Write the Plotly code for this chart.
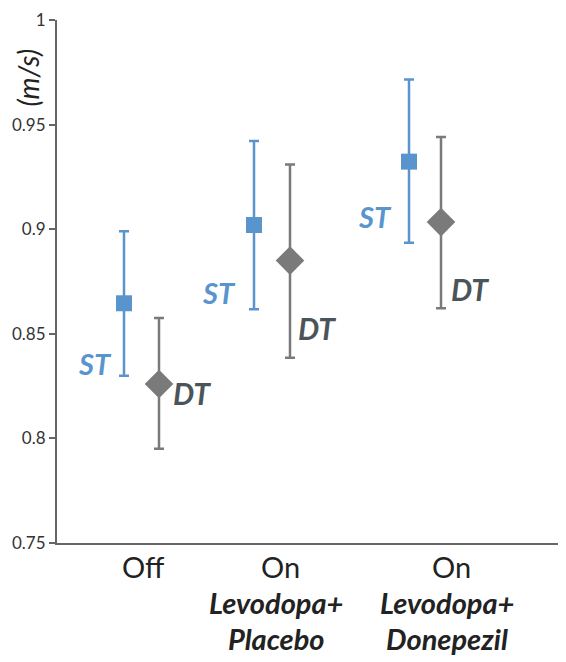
import plotly.graph_objects as go

# ---- data ----
conditions = ["Off", "On Levodopa+Placebo", "On Levodopa+Donepezil"]
st_mean = [0.8646, 0.902, 0.9323]
st_upper = [0.899, 0.9422, 0.9716]
st_lower = [0.830, 0.8617, 0.8935]
dt_mean = [0.826, 0.885, 0.9034]
dt_upper = [0.8575, 0.9309, 0.9441]
dt_lower = [0.795, 0.8385, 0.8622]
y_ticks = [0.75, 0.8, 0.85, 0.9, 0.95, 1.0]
y_ticklabels = ["0.75", "0.8", "0.85", "0.9", "0.95", "1"]

# ---- layout positions (pixel offsets from the y axis) ----
st_x = [67, 197, 352]
dt_x = [102, 233, 384]
cat_label_x = [86, 223, 394]
st_label_y = [0.8357, 0.8698, 0.9062]
dt_label_y = [0.8215, 0.8527, 0.8712]
st_label_dx = [-10, -16, -15]
dt_label_dx = [12, 6, 8]

BLUE = "#5995cc"
GRAY = "#7a7a7a"
DTTXT = "#4b5459"
FONT = "Lato"

fig = go.Figure()
fig.add_trace(go.Scatter(
    x=st_x, y=st_mean, mode="markers",
    marker=dict(symbol="square", size=16, color=BLUE),
    error_y=dict(type="data", symmetric=False,
                 array=[u - m for u, m in zip(st_upper, st_mean)],
                 arrayminus=[m - l for m, l in zip(st_mean, st_lower)],
                 color=BLUE, thickness=2.5, width=5),
    showlegend=False, hoverinfo="skip"))
fig.add_trace(go.Scatter(
    x=dt_x, y=dt_mean, mode="markers",
    marker=dict(symbol="diamond", size=22, color=GRAY),
    error_y=dict(type="data", symmetric=False,
                 array=[u - m for u, m in zip(dt_upper, dt_mean)],
                 arrayminus=[m - l for m, l in zip(dt_mean, dt_lower)],
                 color=GRAY, thickness=2.5, width=5),
    showlegend=False, hoverinfo="skip"))

ann = []
for i in range(3):
    ann.append(dict(x=st_x[i] + st_label_dx[i], y=st_label_y[i], xref="x", yref="y",
                    text="<b><i>ST</i></b>", showarrow=False, xanchor="right", yanchor="middle",
                    font=dict(family=FONT, size=29, color=BLUE)))
    ann.append(dict(x=dt_x[i] + dt_label_dx[i], y=dt_label_y[i], xref="x", yref="y",
                    text="<b><i>DT</i></b>", showarrow=False, xanchor="left", yanchor="middle",
                    font=dict(family=FONT, size=30, color=DTTXT)))

cat_lines = [("Off", None, None), ("On", "Levodopa+", "Placebo"), ("On", "Levodopa+", "Donepezil")]
for i, (a, b, c) in enumerate(cat_lines):
    ann.append(dict(x=cat_label_x[i], y=-0.008, xref="x", yref="paper", text=a,
                    showarrow=False, xanchor="center", yanchor="top",
                    font=dict(family=FONT, size=29, color="#222222")))
    if b:
        ann.append(dict(x=cat_label_x[i] - 4, y=-0.076, xref="x", yref="paper",
                        text="<b><i>" + b + "</i></b>", showarrow=False, xanchor="center", yanchor="top",
                        font=dict(family=FONT, size=29, color="#222222")))
        ann.append(dict(x=cat_label_x[i] - 4, y=-0.145, xref="x", yref="paper",
                        text="<b><i>" + c + "</i></b>", showarrow=False, xanchor="center", yanchor="top",
                        font=dict(family=FONT, size=29, color="#222222")))

ann.append(dict(x=-0.057, y=0.89, xref="paper", yref="paper", text="<i>(m/s)</i>",
                textangle=-90, showarrow=False, xanchor="center", yanchor="middle",
                font=dict(family=FONT, size=28, color="#222222")))

fig.update_layout(
    width=558, height=654,
    margin=dict(l=49, r=0, t=12, b=119),
    plot_bgcolor="white", paper_bgcolor="white",
    annotations=ann,
    xaxis=dict(range=[0, 509], showgrid=False, zeroline=False, showticklabels=False,
               showline=True, linecolor="#666666", linewidth=2, ticks="", automargin=False),
    yaxis=dict(range=[0.75, 1.00001], showgrid=False, zeroline=False, automargin=False,
               tickvals=y_ticks, ticktext=y_ticklabels, ticks="outside", ticklen=6,
               tickwidth=2, tickcolor="#666666", ticklabeloverflow="allow",
               showline=True, linecolor="#666666", linewidth=2,
               tickfont=dict(family=FONT, size=17, color="#333333")),
)

fig.write_html("out.html")
